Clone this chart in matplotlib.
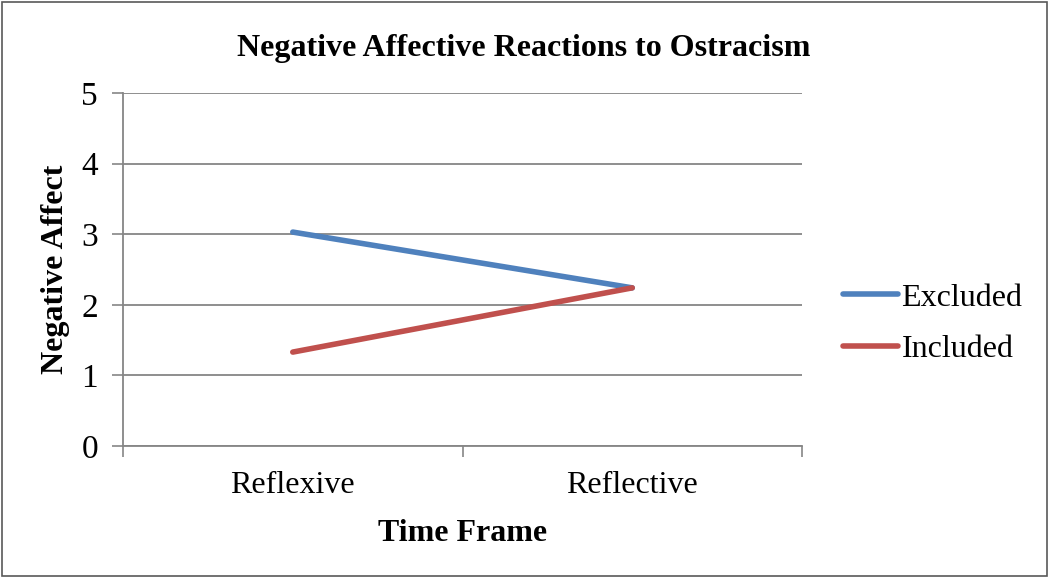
import matplotlib.pyplot as plt
from matplotlib.patches import Rectangle

plt.rcParams['font.family'] = ['Liberation Serif', 'DejaVu Serif']

categories = ["Reflexive", "Reflective"]
excluded = [3.03, 2.24]
included = [1.33, 2.24]
y_ticks = [0, 1, 2, 3, 4, 5]

fig = plt.figure(figsize=(10.49, 5.78), dpi=100)
ax = fig.add_axes([0.1173, 0.2284, 0.6472, 0.6107])

x = [0.5, 1.5]
ax.plot(x, excluded, color="#4F81BD", lw=4, solid_capstyle="round", label="Excluded")
ax.plot(x, included, color="#C0504D", lw=4, solid_capstyle="round", label="Included")

ax.set_xlim(0, 2)
ax.set_ylim(0, 5)
ax.set_yticks(y_ticks)
ax.set_xticks([0, 1, 2])
ax.set_xticklabels([])
ax.set_xticks(x, minor=True)
ax.set_xticklabels(categories, minor=True, fontsize=23)
ax.tick_params(axis="x", which="minor", length=0, pad=18)
ax.tick_params(axis="x", which="major", length=8, width=1.2, color="#868686", direction="out")
ax.tick_params(axis="y", length=8, width=1.2, color="#868686", labelsize=24, pad=10)

ax.yaxis.grid(True, color="#868686", lw=1.3)
ax.set_axisbelow(True)
for s in ["top", "right"]:
    ax.spines[s].set_visible(False)
for s in ["left", "bottom"]:
    ax.spines[s].set_color("#868686")
    ax.spines[s].set_linewidth(1.3)

ax.set_title("Negative Affective Reactions to Ostracism", fontsize=23, fontweight="bold",
             pad=27, x=0.59)
ax.set_ylabel("Negative Affect", fontsize=23, fontweight="bold", labelpad=8)
ax.set_xlabel("Time Frame", fontsize=23, fontweight="bold", labelpad=14)

ax.legend(loc="center left", bbox_to_anchor=(1.042, 0.346), frameon=False, fontsize=23,
          handlelength=1.7, handletextpad=0.12, labelspacing=0.7, borderaxespad=0)

fig.patches.append(Rectangle((0.002, 0.003), 0.996, 0.994, transform=fig.transFigure,
                             fill=False, edgecolor="#595959", lw=1.2))

fig.savefig("out.png", dpi=100)
